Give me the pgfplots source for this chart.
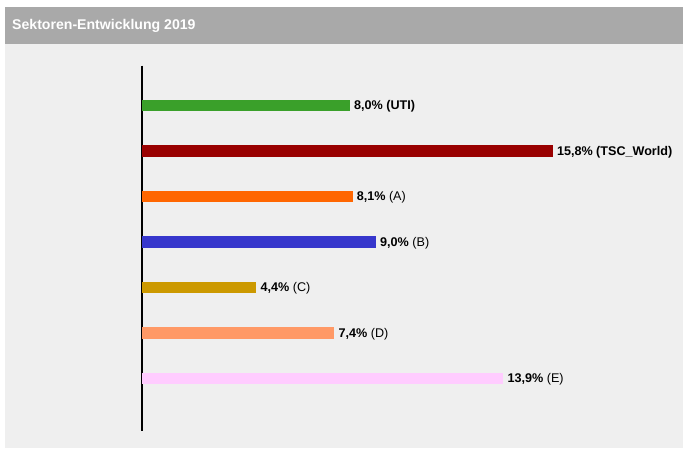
\documentclass[border=0pt]{standalone}
\usepackage{pgfplots}
\pgfplotsset{compat=1.18}
\usepackage{fontspec}
\setmainfont{Liberation Sans}
\definecolor{hdr}{HTML}{A9A9A9}
\definecolor{bodybg}{HTML}{EFEFEF}
\definecolor{cUTI}{HTML}{3AA02A}
\definecolor{cTSC}{HTML}{990000}
\definecolor{cA}{HTML}{FF6600}
\definecolor{cB}{HTML}{3636CC}
\definecolor{cC}{HTML}{CC9900}
\definecolor{cD}{HTML}{FF9966}
\definecolor{cE}{HTML}{FFCCFF}
\begin{document}
\begin{tikzpicture}[x=1pt,y=1pt]
\useasboundingbox (0,0) rectangle (683,448);
\fill[white] (0,0) rectangle (683,448);
\fill[bodybg] (5,0) rectangle (683,404);
\fill[hdr] (5,404) rectangle (683,441);
\node[anchor=base west, inner sep=0pt, text=white, font=\fontsize{14.1}{17}\selectfont\bfseries] at (12,418) {Sektoren-Entwicklung 2019};
\begin{axis}[
  at={(142pt,17.5pt)}, anchor=south west,
  scale only axis, width=520pt, height=365pt,
  xmin=0, xmax=20, ymin=-0.88, ymax=7.14, y dir=reverse,
  axis x line=none, axis y line=left,
  axis line style={-, line width=1.7pt, black},
  xtick=\empty, ytick=\empty,
  clip=false,
  xbar, bar width=11.7pt, bar shift=0pt,
  every axis plot/.append style={draw=none},
  nodes near coords align=horizontal,
  every node near coord/.append style={anchor=west, inner sep=0pt, xshift=4pt, yshift=-1pt, text=black, font=\fontsize{12.6}{14}\selectfont},
]
\addplot[fill=cUTI, nodes near coords={\textbf{8,0\% (UTI)}}] coordinates {(8.0,0)};
\addplot[fill=cTSC, nodes near coords={\textbf{15,8\% (TSC\_World)}}] coordinates {(15.8,1)};
\addplot[fill=cA, nodes near coords={\textbf{8,1\%} (A)}] coordinates {(8.1,2)};
\addplot[fill=cB, nodes near coords={\textbf{9,0\%} (B)}] coordinates {(9.0,3)};
\addplot[fill=cC, nodes near coords={\textbf{4,4\%} (C)}] coordinates {(4.4,4)};
\addplot[fill=cD, nodes near coords={\textbf{7,4\%} (D)}] coordinates {(7.4,5)};
\addplot[fill=cE, nodes near coords={\textbf{13,9\%} (E)}] coordinates {(13.9,6)};
\end{axis}
\end{tikzpicture}
\end{document}
